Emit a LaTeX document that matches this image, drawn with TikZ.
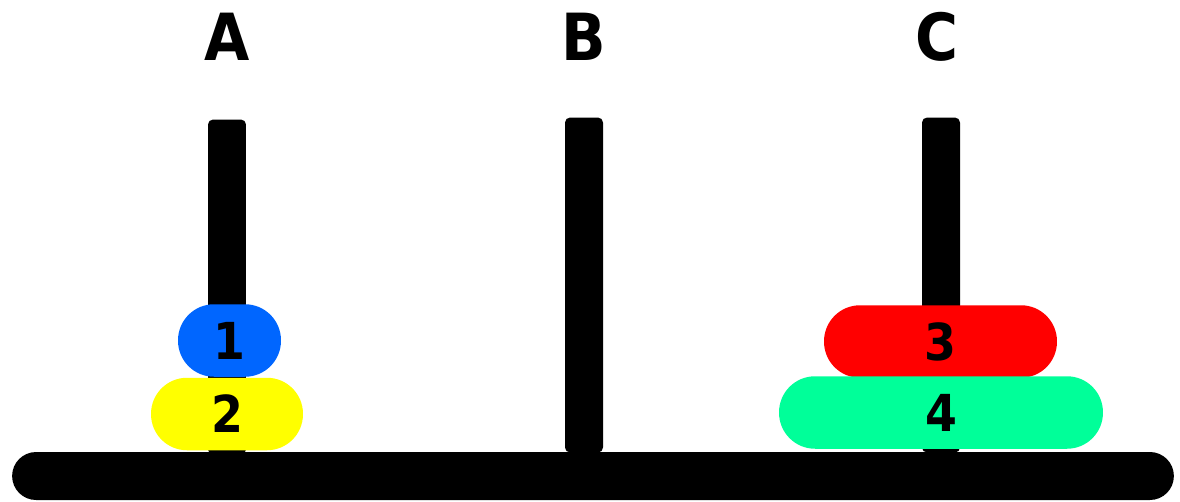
\documentclass[tikz,border=0pt]{standalone}
\usepackage{fontspec}
\setmainfont{DejaVu Sans Condensed}
\definecolor{diskblue}{HTML}{0066FF}
\definecolor{diskyellow}{HTML}{FFFF00}
\definecolor{diskred}{HTML}{FF0000}
\definecolor{diskgreen}{HTML}{00FF99}
\begin{document}
\begin{tikzpicture}[x=0.02cm,y=-0.02cm,
  peg/.style={fill=black,draw=none,rounded corners=0.1cm,minimum width=0.76cm,inner sep=0pt,outer sep=0pt},
  disk/.style={draw=none,inner sep=0pt,outer sep=0pt,font=\fontsize{29}{30}\selectfont\bfseries,text=black,minimum height=1.45cm,rounded corners=0.72cm},
  lbl/.style={font=\fontsize{37}{40}\selectfont\bfseries,text=black,inner sep=0pt}]
\useasboundingbox (0,0) rectangle (1180,501);
% labels
\node[lbl] (la) at (227,37) {A};
\node[lbl] (lb) at (584,37) {B};
\node[lbl] (lc) at (937,37) {C};
% pegs
\node[peg,minimum height=6.7cm] (pa) at (227,287) {};
\node[peg,minimum height=6.7cm] (pb) at (584,285) {};
\node[peg,minimum height=6.7cm] (pc) at (941,285) {};
% base
\node[fill=black,draw=none,rounded corners=0.48cm,minimum width=23.24cm,minimum height=0.96cm,inner sep=0pt] (base) at (593,476) {};
% disks
\node[disk,fill=diskblue,minimum width=2.06cm] (d1) at (229.5,340.5) {1};
\node[disk,fill=diskyellow,minimum width=3.04cm] (d2) at (227,414) {2};
\node[disk,fill=diskred,minimum width=4.66cm] (d3) at (940.5,341.5) {3};
\node[disk,fill=diskgreen,minimum width=6.48cm] (d4) at (941,412.5) {4};
\end{tikzpicture}
\end{document}
